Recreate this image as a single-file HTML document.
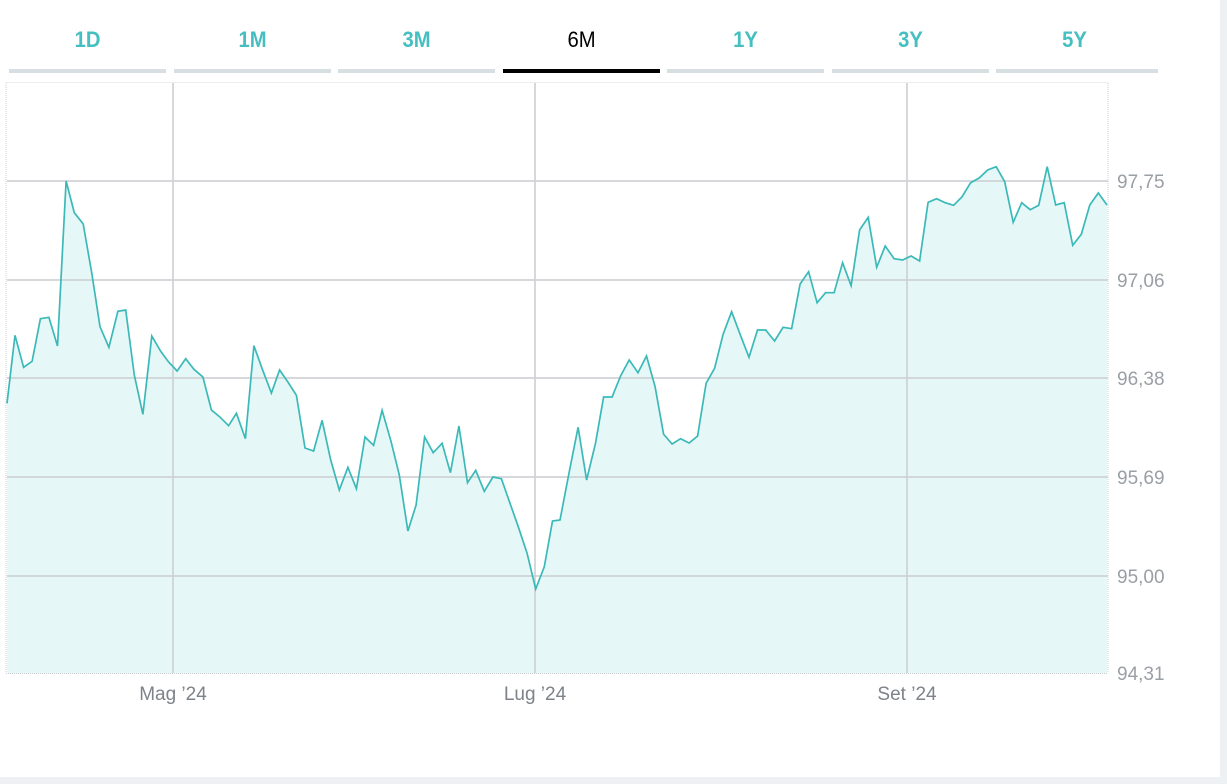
<!DOCTYPE html>
<html><head><meta charset="utf-8"><style>
html,body{margin:0;padding:0;background:#fff;width:1227px;height:784px;overflow:hidden;font-family:"Liberation Sans",sans-serif}
.tab{position:absolute;top:27px;width:157px;text-align:center;font-size:22px;font-weight:bold;color:#45bfbf;transform:scaleX(0.92)}
.ul{position:absolute;top:69px;width:157px;height:4px;background:#d8dfe3}
</style></head><body>
<div style="position:absolute;left:1220px;top:0;width:7px;height:784px;background:#eef1f3"></div>
<div style="position:absolute;left:0;top:777px;width:1227px;height:7px;background:#eef1f3"></div>
<div id="tabs"></div>
<svg width="1227" height="784" style="position:absolute;left:0;top:0" id="s"></svg>
<script>
var labels=["1D","1M","3M","6M","1Y","3Y","5Y"],h="";
for(var i=0;i<7;i++){var x=9+i*164.5;
h+='<div class="tab" style="left:'+x+'px;'+(i==3?'color:#000;font-weight:normal':'')+'">'+labels[i]+'</div>';
h+='<div class="ul" style="left:'+x+'px;'+(i==3?'background:#000':'')+(i==6?';width:162px':'')+'"></div>';}
document.getElementById('tabs').innerHTML=h;
var A=[[20,760],[42,556],[66,652],[90,634],[113,506],[137,502],[161,588],[185,93],[208,188],[233,222],[257,370],[280,530],[305,592],[330,484],[352,480],[376,675],[400,793],[425,558],[450,604],[472,636],[496,663],[520,626],[543,658],[568,681],[592,780],[615,800],[640,827],[662,790],[687,866],[711,587],[735,659],[760,729],[783,660],[806,696],[830,736],[854,894],[878,903],[902,811],[926,930],[950,1020],[974,952],[998,1016],[1022,861],[1046,886],[1070,781],[1095,875],[1118,975],[1142,1143],[1165,1065],[1189,861],[1213,908],[1238,880],[1261,968],[1285,828],[1309,998],[1332,961],[1356,1024],[1380,981],[1404,986],[1428,1060],[1452,1133],[1476,1210],[1500,1317],[1524,1250],[1547,1113],[1568,1110]];
var B=[[80,960],[103,832],[126,990],[150,880],[172,741],[195,741],[218,677],[241,630],[265,668],[288,618],[311,710],[334,853],[357,882],[380,866],[403,879],[426,858],[449,700],[472,655],[495,553],[518,485],[541,553],[565,622],[588,540],[610,540],[634,573],[657,532],[680,536],[703,402],[726,365],[749,458],[772,428],[795,428],[818,338],[841,407],[864,240],[887,202],[910,352],[933,288],[957,326],[980,330],[1003,318],[1026,333],[1049,157],[1072,146],[1095,158],[1118,166],[1141,140],[1164,98],[1187,84],[1210,60],[1233,50],[1256,95],[1279,217],[1302,158],[1325,179],[1348,166],[1371,50],[1394,165],[1417,158],[1440,286],[1463,253],[1486,165],[1509,129],[1532,165]];
var P=[];A.forEach(function(p){P.push([p[0]/2.8,150+p[1]/3])});
B.forEach(function(p){P.push([540+p[0]/2.703,150+p[1]/3])});
P[0][0]=7;P[P.length-1][0]=1107;
var pts=P.map(function(p){return p[0].toFixed(1)+','+p[1].toFixed(1)}).join(' ');
var s='';
s+='<polygon points="7,673 '+pts+' 1107,673" fill="#e5f7f7"/>';
[181,280,378,477,576].forEach(function(y){s+='<line x1="7" x2="1108" y1="'+y+'" y2="'+y+'" stroke="#cfd2d6" stroke-width="2" opacity="0.85"/>'});
[173,535,907].forEach(function(x){s+='<line x1="'+x+'" x2="'+x+'" y1="83" y2="673" stroke="#cfd2d6" stroke-width="2" opacity="0.85"/>'});
s+='<line x1="6" x2="6" y1="83" y2="673" stroke="#cfd2d6" stroke-dasharray="1,1"/>';
s+='<line x1="1108" x2="1108" y1="83" y2="673" stroke="#cfd2d6" stroke-dasharray="1,1"/>';
s+='<line x1="6" x2="1108" y1="673.5" y2="673.5" stroke="#c8cbcf" stroke-dasharray="1,1"/>';
s+='<line x1="6" x2="1108" y1="82.5" y2="82.5" stroke="#eceef0"/>';
s+='<polyline points="'+pts+'" fill="none" stroke="#3bb9b9" stroke-width="1.7"/>';
var yl=[["97,75",181],["97,06",280],["96,38",378],["95,69",477],["95,00",576],["94,31",673]];
yl.forEach(function(l){s+='<text x="1117" y="'+(l[1]+7)+'" font-size="19" fill="#9a9fa5" font-family="Liberation Sans,sans-serif">'+l[0]+'</text>'});
[["Mag \u201924",173],["Lug \u201924",535],["Set \u201924",907]].forEach(function(l){s+='<text x="'+l[1]+'" y="700" text-anchor="middle" font-size="19" fill="#7d8388" font-family="Liberation Sans,sans-serif">'+l[0]+'</text>'});
document.getElementById('s').innerHTML=s;
</script>
</body></html>
